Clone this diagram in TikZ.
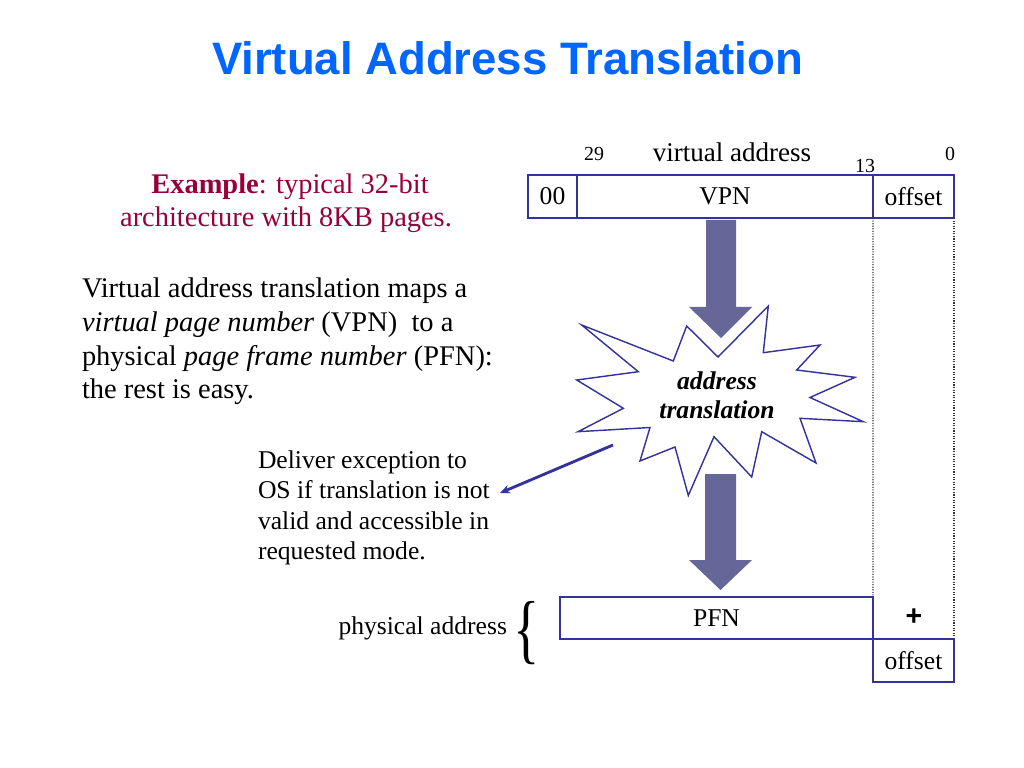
\documentclass[tikz,border=0pt]{standalone}
\usepackage{fontspec}
\setmainfont{Liberation Serif}
\newfontfamily\arialfont{Liberation Sans}
\usetikzlibrary{arrows.meta}
\definecolor{titleblue}{RGB}{0,102,255}
\definecolor{maroonx}{RGB}{150,0,60}
\definecolor{boxblue}{RGB}{51,51,153}
\definecolor{arrowfill}{RGB}{102,102,153}
\definecolor{dotgray}{RGB}{50,50,50}
\begin{document}
\begin{tikzpicture}[x=0.703125pt,y=-0.703125pt,
  txt/.style={inner sep=0pt,outer sep=0pt},
  body/.style={txt,anchor=base west,font=\fontsize{20}{24}\selectfont},
  small/.style={txt,anchor=base west,font=\fontsize{18}{21}\selectfont},
  example/.style={txt,anchor=base,text=maroonx,font=\fontsize{20}{24}\selectfont},
  cell/.style={draw=boxblue,line width=1pt,inner sep=0pt,outer sep=0pt,font=\fontsize{18}{21}\selectfont},
  bitnum/.style={txt,anchor=base,font=\fontsize{14}{16}\selectfont},
  blockarrow/.style={fill=arrowfill,draw=none},
  dotline/.style={draw=dotgray,line width=0.8pt,densely dotted},
  starline/.style={draw=boxblue,line width=1pt,fill=white,line join=miter},
  callout/.style={draw=boxblue,line width=2pt,-{Stealth[length=7pt,width=6pt]}}
]
\useasboundingbox (0,0) rectangle (1024,768);

% title
\node[txt,anchor=base,text=titleblue,font=\arialfont\bfseries\fontsize{32}{38}\selectfont] (title) at (507.5,75) {Virtual Address Translation};

% example
\node[example] (ex1) at (290,194) {\textbf{Example}: typical 32-bit};
\node[example] (ex2) at (286,227) {architecture with 8KB pages.};

% body text
\node[body] (b1) at (82,298) {Virtual address translation maps a};
\node[body] (b2) at (82,331.5) {\textit{virtual page number} (VPN)\ \ to a};
\node[body] (b3) at (82,365) {physical \textit{page frame number} (PFN):};
\node[body] (b4) at (82,398.5) {the rest is easy.};

% deliver text
\node[small] (d1) at (258,468) {Deliver exception to};
\node[small] (d2) at (258,498) {OS if translation is not};
\node[small] (d3) at (258,529) {valid and accessible in};
\node[small] (d4) at (258,559) {requested mode.};

% virtual address box
\node[cell,minimum width=34.45pt,minimum height=30.23pt] (v00) at (552.5,196.5) {00};
\node[cell,minimum width=208.125pt,minimum height=30.23pt] (vpn) at (725,196.5) {VPN};
\node[cell,minimum width=56.95pt,minimum height=30.23pt] (voff) at (913.5,196.5) {offset};
\node[bitnum] (n29) at (594,161) {29};
\node[txt,anchor=base,font=\fontsize{19}{22}\selectfont] (vlabel) at (732,162) {virtual address};
\node[bitnum] (n13) at (865,173) {13};
\node[bitnum] (n0) at (950,161) {0};

% star
\draw[starline] (581.7,325) -- (673.3,361) -- (686.7,326) -- (718,357) -- (768.3,306)
  -- (763.3,352.7) -- (820,345) -- (796.7,370) -- (855,377.3) -- (810,397.5)
  -- (863.3,421.7) -- (800,418.3) -- (816,463) -- (761.7,431.7) -- (751.7,477)
  -- (714,436.7) -- (688.3,495.5) -- (675,447) -- (640,461) -- (650,427.5)
  -- (578,431.7) -- (623.3,408.3) -- (576.7,380) -- (638.3,371.7) -- cycle;
\node[txt,align=center,font=\bfseries\itshape\fontsize{18}{20.5}\selectfont] (xlate) at (717,395.5) {address\\translation};

% block arrows
\path[blockarrow] (706,220) -- (736,220) -- (736,307) -- (752,307) -- (721,338) -- (689,307) -- (706,307) -- cycle;
\path[blockarrow] (705,474) -- (736,474) -- (736,560) -- (752,560) -- (720.5,590) -- (689,560) -- (705,560) -- cycle;

% physical address
\node[cell,minimum width=220.08pt,minimum height=29.53pt] (pfn) at (716.5,618) {PFN};
\node[cell,minimum width=56.95pt,minimum height=30.23pt] (poff) at (913.5,660.5) {offset};
\node[txt,font=\arialfont\bfseries\fontsize{20}{24}\selectfont] (plus) at (914,617) {+};
\node[txt,anchor=base east,font=\fontsize{18}{21}\selectfont] (plabel) at (507,634) {physical address};
\node[txt,font=\fontsize{48}{48}\selectfont] (brace) at (527,633) {\scalebox{0.8}[1.12]{\{}};

% dotted guides
\draw[dotline] (voff.south west) -- (pfn.north east);
\draw[dotline] (voff.south east) -- (poff.north east);

% callout
\coordinate (cstart) at (613,445);
\coordinate (cend) at (500,493);
\draw[callout] (cstart) -- (cend);
\end{tikzpicture}
\end{document}
